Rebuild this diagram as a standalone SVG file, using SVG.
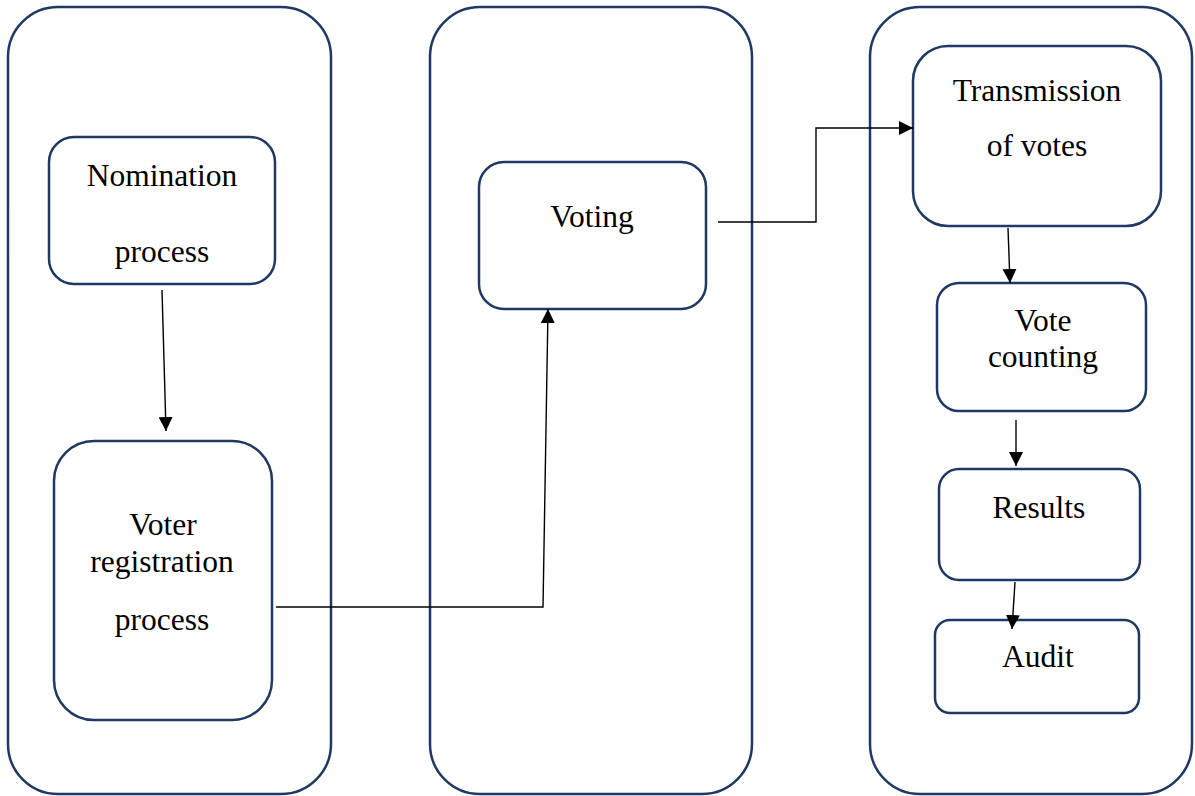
<svg xmlns="http://www.w3.org/2000/svg" width="1195" height="796" viewBox="0 0 1195 796">
<style>
.box{fill:#fff;stroke:#1f3864;stroke-width:2.5}
.lane{fill:#fff;stroke:#1f3864;stroke-width:2.5}
.t{font-family:"Liberation Serif","Times New Roman",serif;font-size:31.5px;fill:#000;text-anchor:middle}
.c{fill:none;stroke:#000;stroke-width:1.4}
</style>
<defs>
<marker id="ah" viewBox="0 0 14 14" refX="14" refY="7" markerWidth="14" markerHeight="14" markerUnits="userSpaceOnUse" orient="auto">
<path d="M0,0 L14,7 L0,14 Z" fill="#000"/>
</marker>
</defs>
<rect width="1195" height="796" fill="#fff"/>
<g id="lanes">
<rect id="lane1" class="lane" x="8" y="7" width="323" height="787" rx="50"/>
<rect id="lane2" class="lane" x="430" y="7" width="322" height="787" rx="50"/>
<rect id="lane3" class="lane" x="870" y="7" width="322" height="787" rx="50"/>
</g>
<g id="nomination">
<rect class="box" x="49" y="137" width="226" height="147" rx="25"/>
<text class="t" x="162" y="186">Nomination</text>
<text class="t" x="162" y="262">process</text>
</g>
<g id="voter-registration">
<rect class="box" x="54" y="441" width="218" height="279" rx="40"/>
<text class="t" x="163" y="535">Voter</text>
<text class="t" x="162" y="572">registration</text>
<text class="t" x="162" y="630">process</text>
</g>
<g id="voting">
<rect class="box" x="479" y="162" width="227" height="147" rx="25"/>
<text class="t" x="592" y="227">Voting</text>
</g>
<g id="transmission">
<rect class="box" x="913" y="46" width="248" height="180" rx="35"/>
<text class="t" x="1037" y="101">Transmission</text>
<text class="t" x="1037" y="156">of votes</text>
</g>
<g id="vote-counting">
<rect class="box" x="937" y="283" width="209" height="128" rx="22"/>
<text class="t" x="1043" y="331">Vote</text>
<text class="t" x="1043" y="367">counting</text>
</g>
<g id="results">
<rect class="box" x="939" y="469" width="201" height="111" rx="20"/>
<text class="t" x="1039" y="518">Results</text>
</g>
<g id="audit">
<rect class="box" x="935" y="620" width="204" height="93" rx="15"/>
<text class="t" x="1038" y="667">Audit</text>
</g>
<g id="connectors">
<path class="c" d="M162,290 L166,431" marker-end="url(#ah)"/>
<path class="c" d="M276,607 L543,607 L548,309" marker-end="url(#ah)"/>
<path class="c" d="M718,222 L816,222 L816,128 L913,128" marker-end="url(#ah)"/>
<path class="c" d="M1008,228 L1010,283" marker-end="url(#ah)"/>
<path class="c" d="M1016,420 L1016,466" marker-end="url(#ah)"/>
<path class="c" d="M1015,582 L1012,629" marker-end="url(#ah)"/>
</g>
</svg>
